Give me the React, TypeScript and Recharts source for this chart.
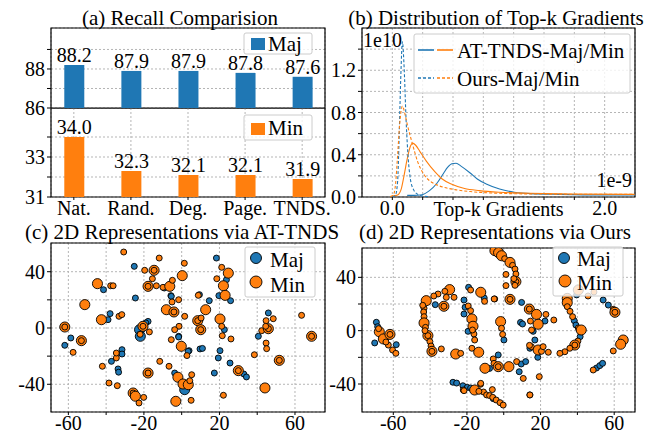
import React from 'react';
import {
  BarChart, Bar, XAxis, YAxis, ZAxis, CartesianGrid, LabelList, Label,
  LineChart, Line, ScatterChart, Scatter, ReferenceArea,
} from 'recharts';

const F = '"Liberation Serif", "Times New Roman", Times, serif';
const BLUE = '#1f77b4';
const ORANGE = '#ff7f0e';
const GRID = '#b5b5b5';

// ---------- (a) Recall comparison ----------
const methods = ['Nat.', 'Rand.', 'Deg.', 'Page.', 'TNDS.'];
const majRecall = [88.2, 87.9, 87.9, 87.8, 87.6];
const minRecall = [34.0, 32.3, 32.1, 32.1, 31.9];

// ---------- (b) Distribution of top-k gradients (x in 1e-9, y in 1e10) ----------
const atMajX = [0.14, 0.2, 0.28, 0.35, 0.42, 0.48, 0.52, 0.56, 0.6, 0.65, 0.73, 0.8, 0.89, 1.01, 1.15, 1.3, 1.58, 1.96, 2.28];
const atMajY = [0.015, 0.015, 0.022, 0.06, 0.13, 0.22, 0.28, 0.315, 0.32, 0.29, 0.23, 0.17, 0.12, 0.075, 0.045, 0.032, 0.025, 0.02, 0.02];
const atMinX = [0.0, 0.05, 0.085, 0.11, 0.14, 0.17, 0.19, 0.22, 0.26, 0.32, 0.4, 0.47, 0.56, 0.68, 0.82, 1.01, 1.3, 1.67, 2.28];
const atMinY = [0.01, 0.02, 0.08, 0.2, 0.36, 0.48, 0.51, 0.49, 0.43, 0.34, 0.24, 0.17, 0.12, 0.08, 0.06, 0.045, 0.035, 0.028, 0.025];
const oursMajX = [0.0, 0.03, 0.05, 0.065, 0.08, 0.095, 0.11, 0.13, 0.15, 0.17, 0.2, 0.24, 0.28, 0.35];
const oursMajY = [0.0, 0.02, 0.15, 0.6, 1.15, 1.47, 1.25, 0.72, 0.36, 0.17, 0.07, 0.025, 0.01, 0.003];
const oursMinX = [-0.02, 0.01, 0.03, 0.05, 0.07, 0.095, 0.12, 0.14, 0.19, 0.24, 0.3, 0.37, 0.43, 0.59, 0.75, 1.01, 1.4, 2.28];
const oursMinY = [0.005, 0.02, 0.12, 0.4, 0.7, 0.86, 0.78, 0.69, 0.5, 0.33, 0.21, 0.14, 0.11, 0.07, 0.05, 0.035, 0.028, 0.025];
const gradTicks = [0, 1, 2, 3, 4, 5, 6, 7].map((k) => (k * 2) / 7);
const densTicks = [0, 0.2, 0.4, 0.6, 0.8, 1.0, 1.2, 1.4];

// ---------- (c) 2D representations via AT-TNDS: [x, y, weight] ----------
const cMaj = [
  [-25.1, 43.8, 1], [18.4, 49.7, 1], [-41.4, 27.2, 1], [-9.2, 28.4, 1], [-5.7, 23.0, 1], [9.4, 23.7, 1],
  [14.6, 19.4, 1], [19.7, 23.0, 1], [23.7, 34.3, 1], [25.9, 19.4, 1], [-37.9, 10.2, 1], [-39.0, 5.9, 1],
  [-17.8, 4.7, 1], [-19.0, 3.6, 1], [-22.3, -1.2, 2], [-21.9, -5.9, 2], [-1.6, -5.9, 1], [3.9, -16.1, 1],
  [9.7, -14.9, 1], [11.0, -14.5, 1], [20.3, -16.1, 1], [19.4, -21.3, 1], [25.6, -24.9, 1], [22.6, -1.2, 1],
  [17.3, -32.0, 1], [32.9, -32.7, 1], [34.3, -34.8, 1], [-3.7, -32.0, 1], [1.6, -43.8, 2], [-37.2, -23.7, 1],
  [-31.6, -15.4, 1], [-31.6, -18.5, 1], [-33.7, -29.1, 1], [-33.4, -31.4, 1], [-61.9, -12.3, 1], [-58.7, -7.1, 1],
  [-24.5, 21.3, 1], [40.6, -5.9, 1], [45.9, 10.7, 1], [-5.5, 22.5, 1], [-1.6, -6.4, 1], [3.4, -16.6, 1],
];
const cMin = [
  [-30.7, 54.0, 1], [-11.9, 49.7, 1], [1.4, 46.0, 1], [21.2, 43.1, 1], [-19.6, 41.0, 1], [-14.6, 41.0, 2],
  [-14.6, 41.0, 1], [-15.5, 35.0, 1], [-44.6, 31.5, 2], [-37.6, 30.0, 1], [-36.3, 30.0, 1], [-17.8, 29.6, 2],
  [-17.8, 29.6, 1], [-13.4, 30.0, 1], [-9.9, 28.9, 1], [-6.3, 29.6, 2], [-4.9, 33.9, 1], [0.3, 37.2, 2],
  [-5.1, 18.5, 1], [-1.6, 20.1, 1], [22.1, 30.0, 2], [23.0, 23.2, 2], [24.7, 39.0, 2], [18.6, 35.0, 1],
  [8.8, 23.2, 1], [-51.3, 16.6, 2], [-33.2, 8.3, 1], [-31.7, 9.5, 1], [-42.5, 5.9, 2], [-20.5, 1.2, 2],
  [-20.5, 1.2, 1], [-22.0, -4.5, 1], [-17.1, -2.8, 1], [-8.1, 13.0, 2], [-4.1, 11.4, 2], [-4.1, 11.4, 1],
  [1.6, 8.3, 1], [-1.4, 1.2, 1], [-3.7, -1.2, 1], [-5.5, -8.3, 1], [-0.2, -13.0, 2], [8.5, 5.2, 2],
  [8.5, 5.2, 1], [10.3, 7.1, 1], [12.7, 13.0, 2], [10.1, -1.2, 2], [10.1, -1.2, 1], [20.3, 6.4, 2],
  [21.2, 1.2, 1], [21.5, -5.5, 1], [26.1, -7.8, 1], [30.0, -30.3, 2], [30.0, -30.3, 1], [22.1, -47.8, 1],
  [-6.7, -27.2, 1], [-2.0, -35.0, 2], [0.7, -39.8, 2], [3.5, -40.3, 2], [5.3, -33.2, 1], [4.3, -37.5, 1],
  [5.0, -51.4, 1], [-3.1, -52.1, 2], [-11.6, -23.7, 1], [-17.8, -32.0, 2], [-17.8, -32.0, 1], [-20.1, -49.3, 1],
  [-25.7, -46.2, 2], [-25.7, -46.2, 1], [-24.5, -48.5, 2], [-22.6, -53.3, 1], [-38.5, -39.1, 1], [-34.1, -41.0, 1],
  [-42.0, -27.2, 1], [-34.6, -21.3, 1], [-34.6, -17.8, 1], [-61.9, 0.7, 2], [-61.9, 0.7, 1], [-57.5, -17.3, 1],
  [-53.1, -9.0, 2], [-53.1, -9.0, 1], [2.8, -19.6, 1], [38.5, -19.0, 1], [42.4, -1.9, 1], [45.9, -0.5, 2],
  [45.9, -0.5, 1], [44.7, 5.2, 1], [48.5, 6.6, 1], [44.5, 1.2, 1], [44.7, -10.7, 1], [45.0, -14.7, 1],
  [51.7, -23.0, 2], [51.7, -23.0, 1], [44.1, -42.6, 2], [63.5, 9.0, 1], [68.8, -5.9, 2], [68.8, -5.9, 1],
];

// ---------- (d) 2D representations via Ours: [x, y, weight] ----------
const dMaj = [
  [-69.2, 6.3, 1], [-68.5, 3.0, 1], [-70.1, -9.2, 1], [-58.4, -10.5, 1], [-37.2, 19.5, 1], [-19.1, 32.5, 1],
  [-10.6, 24.5, 1], [-21.6, 23.0, 1], [-21.0, 17.5, 1], [-21.6, 12.5, 1], [-19.4, -0.5, 1], [0.1, -7.0, 1],
  [-3.0, -18.2, 1], [-7.7, -28.3, 1], [9.5, -25.0, 1], [11.9, -23.2, 1], [8.4, -30.8, 1], [9.7, 21.2, 1],
  [22.4, 7.2, 1], [9.1, 6.2, 1], [10.2, 5.0, 1], [16.0, -0.5, 1], [16.9, -7.0, 1], [18.5, -20.0, 1],
  [14.2, -13.2, 1], [38.3, 7.5, 1], [39.2, 4.2, 1], [41.5, -4.5, 1], [39.6, 26.8, 1], [54.0, 23.0, 1],
  [56.8, 19.2, 1], [50.4, -28.0, 1], [52.2, -26.2, 1], [53.7, -24.5, 1], [-27.6, -38.7, 1], [-25.6, -39.3, 1],
  [-22.2, -41.3, 1], [-19.8, -42.5, 1], [-18.0, -43.0, 1], [-5.7, -51.0, 1],
];
const dMin = [
  [-67.6, -0.8, 2], [-65.4, -6.2, 2], [-62.7, -10.8, 1], [-60.4, -14.5, 1], [-58.6, -17.0, 1], [-61.8, -2.8, 2],
  [-61.8, -2.8, 1], [-68.0, 1.5, 1], [-64.0, -8.5, 1],
  [-29.4, 30.8, 2], [-32.0, 29.5, 1], [-35.7, 27.5, 1], [-38.0, 26.0, 1], [-42.1, 22.5, 2], [-43.3, 16.8, 1],
  [-43.5, 14.0, 1], [-43.3, 10.5, 1], [-43.3, 5.8, 2], [-42.5, 2.5, 1], [-41.2, -3.7, 2], [-41.2, -3.7, 1],
  [-40.1, -8.2, 1], [-39.5, -11.5, 1], [-39.0, -15.5, 2], [-39.0, -15.5, 1], [-33.9, -13.7, 1], [-32.5, 18.3, 2],
  [-32.5, 18.3, 1], [-31.2, 25.0, 1], [-27.0, 25.0, 1], [-44.0, 19.0, 1], [-42.8, 0.0, 1],
  [-18.0, 30.5, 1], [-12.5, 28.8, 2], [-10.4, 22.0, 1], [-19.3, 18.5, 1], [-18.0, 15.0, 1], [-17.3, 8.8, 2],
  [-16.7, 3.3, 2], [-16.2, -2.5, 1], [-15.8, -7.0, 1], [-17.3, -13.2, 1], [-13.6, -16.2, 2], [-26.1, -17.5, 2],
  [-23.4, -17.0, 1], [-4.9, 23.8, 1], [-17.0, 0.5, 1],
  [-4.8, 60.0, 2], [-2.8, 58.5, 2], [-1.2, 56.2, 2], [0.5, 54.0, 1], [3.4, 51.2, 2], [4.8, 49.0, 1],
  [6.1, 46.2, 1], [6.6, 42.5, 1], [6.6, 36.8, 2], [6.6, 36.8, 1], [6.1, 34.0, 1], [1.2, 42.2, 1],
  [1.2, 33.8, 1], [3.4, 23.5, 2], [3.4, 23.5, 1], [-5.2, 23.8, 1], [5.5, 39.0, 1],
  [-1.7, 6.8, 2], [-1.2, 1.8, 1], [-0.6, -2.8, 1], [-5.7, -21.2, 1], [-5.3, -24.5, 1], [-3.0, -27.0, 2],
  [-3.0, -27.0, 1], [-10.2, -28.2, 2], [2.8, -27.0, 2], [7.0, -23.2, 1], [10.6, -35.8, 1], [14.2, -48.2, 1],
  [14.2, -48.2, 1],
  [13.9, 16.2, 2], [13.9, 16.2, 1], [17.8, 12.2, 2], [22.9, 12.2, 1], [18.7, 4.8, 2], [14.5, 7.2, 1],
  [15.1, 0.5, 1], [15.0, -12.0, 1], [18.7, -14.5, 2], [20.5, -15.5, 1], [21.4, -12.0, 1], [24.2, -16.2, 1],
  [27.2, 8.0, 1], [19.3, -34.5, 1], [14.0, -11.0, 1],
  [34.5, 24.2, 2], [34.5, 21.0, 2], [34.5, 18.0, 1], [36.0, 14.5, 1], [37.4, 10.5, 1], [40.5, 2.0, 1],
  [42.1, 0.5, 2], [40.3, -7.8, 1], [38.6, -10.8, 2], [38.6, -10.8, 1], [35.9, -13.2, 1], [33.2, -15.8, 1],
  [30.5, -17.0, 1], [40.5, 30.5, 2], [45.8, 26.0, 1], [49.0, 29.0, 1], [59.5, 16.0, 1], [60.4, 13.8, 2],
  [60.4, 13.8, 1], [59.5, -15.2, 1], [64.9, -7.0, 2], [63.5, -10.2, 2], [48.6, -29.5, 1],
  [-22.0, -44.5, 1], [-21.6, -45.0, 1], [-15.8, -44.5, 2], [-12.6, -40.2, 1], [-12.5, -39.5, 1], [-11.0, -46.0, 1],
  [-9.3, -48.2, 1], [-7.7, -48.7, 1], [-6.0, -50.0, 1], [-4.1, -52.0, 1], [-2.0, -54.0, 1], [-0.3, -55.8, 1],
  [-6.2, -44.2, 1], [-13.5, -45.5, 1],
];

const recallRows = methods.map((m, i) => ({ idx: i, name: m, maj: majRecall[i], min: minRecall[i] }));
const toXY = (xs: number[], ys: number[]) => xs.map((x, i) => ({ x, y: ys[i] }));
const toPts = (arr: number[][]) => arr.map(([x, y, w]) => ({ x, y, w }));

const tickStyle = { fill: '#000', fontSize: 20, fontFamily: F };
const tickLine = { stroke: '#000' };
const near = (a: number, b: number) => Math.abs(a - b) < 1e-6;

function ScatterPanel({ maj, min, xDom, yDom, yW, width, margin }: any) {
  return (
    <ScatterChart width={width} height={204} margin={margin}>
      <CartesianGrid stroke={GRID} strokeDasharray="2 2" />
      <XAxis dataKey="x" type="number" domain={xDom} allowDataOverflow ticks={[-60, -40, -20, 0, 20, 40, 60]} interval={0}
        tickFormatter={(v: number) => ([-60, -20, 20, 60].includes(v) ? String(v) : '')}
        height={22} tick={tickStyle} tickLine={tickLine} tickSize={3} tickMargin={1} axisLine={false} />
      <YAxis dataKey="y" type="number" domain={yDom} allowDataOverflow ticks={[-40, -20, 0, 20, 40]} interval={0}
        tickFormatter={(v: number) => ([-40, 0, 40].includes(v) ? String(v) : '')}
        width={yW} tick={tickStyle} tickLine={tickLine} tickSize={4} tickMargin={2} axisLine={false} />
      <ZAxis dataKey="w" type="number" domain={[1, 2]} range={[28, 80]} />
      <Scatter data={toPts(maj)} fill={BLUE} stroke="#000" strokeWidth={0.9} isAnimationActive={false} />
      <Scatter data={toPts(min)} fill={ORANGE} stroke="#000" strokeWidth={0.9} isAnimationActive={false} />
      <ReferenceArea x1={xDom[0]} x2={xDom[1]} y1={yDom[0]} y2={yDom[1]} fill="none" stroke="#000" strokeWidth={1.2} ifOverflow="visible" />
    </ScatterChart>
  );
}

export default function App() {
  return (
    <div style={{ position: 'absolute', left: 0, top: 0, width: 668, height: 434, background: '#fff', overflow: 'hidden', fontFamily: F }}>
      {/* (a) upper: Maj */}
      <div style={{ position: 'absolute', left: 0, top: 0 }}>
        <BarChart width={340} height={122} data={recallRows} margin={{ top: 28, right: 15, left: 0, bottom: 14 }}>
          <CartesianGrid stroke={GRID} strokeDasharray="2 2" />
          <XAxis dataKey="idx" type="number" domain={[-0.4, 4.4]} ticks={[0, 1, 2, 3, 4]} interval={0} allowDataOverflow
            height={0} tick={false} tickLine={false} axisLine={false} />
          <YAxis type="number" domain={[86, 90.1]} allowDataOverflow ticks={[86, 87, 88, 89]} interval={0}
            tickFormatter={(v: number) => (v === 86 || v === 88 ? String(v) : '')}
            width={51} tick={tickStyle} tickLine={tickLine} tickSize={4} tickMargin={2} axisLine={false} />
          <Bar dataKey="maj" fill={BLUE} barSize={20} isAnimationActive={false}>
            <LabelList dataKey="maj" position="top" offset={3} fill="#000" fontSize={20} fontFamily={F}
              formatter={(v: any) => Number(v).toFixed(1)} />
          </Bar>
          <ReferenceArea x1={-0.4} x2={4.4} y1={86} y2={90.1} fill="none" stroke="#000" strokeWidth={1.2} ifOverflow="visible" />
        </BarChart>
      </div>
      {/* (a) lower: Min */}
      <div style={{ position: 'absolute', left: 0, top: 108 }}>
        <BarChart width={340} height={114} data={recallRows} margin={{ top: 0, right: 15, left: 0, bottom: 0 }}>
          <CartesianGrid stroke={GRID} strokeDasharray="2 2" />
          <XAxis dataKey="idx" type="number" domain={[-0.4, 4.4]} ticks={[0, 1, 2, 3, 4]} interval={0} allowDataOverflow
            tickFormatter={(v: number) => methods[v] ?? ''}
            height={25} tick={tickStyle} tickLine={tickLine} tickSize={3} tickMargin={1} axisLine={false} />
          <YAxis type="number" domain={[31, 35.45]} allowDataOverflow ticks={[31, 32, 33, 34]} interval={0}
            tickFormatter={(v: number) => (v === 31 || v === 33 ? String(v) : '')}
            width={51} tick={tickStyle} tickLine={tickLine} tickSize={4} tickMargin={2} axisLine={false} />
          <Bar dataKey="min" fill={ORANGE} barSize={20} isAnimationActive={false}>
            <LabelList dataKey="min" position="top" offset={3} fill="#000" fontSize={20} fontFamily={F}
              formatter={(v: any) => Number(v).toFixed(1)} />
          </Bar>
          <ReferenceArea x1={-0.4} x2={4.4} y1={31} y2={35.45} fill="none" stroke="#000" strokeWidth={1.2} ifOverflow="visible" />
        </BarChart>
      </div>

      {/* (b) distribution */}
      <div style={{ position: 'absolute', left: 322, top: 0 }}>
        <LineChart width={318} height={222} margin={{ top: 28, right: 5, left: 0, bottom: 0 }}>
          <CartesianGrid stroke={GRID} strokeDasharray="2 2" />
          <XAxis dataKey="x" type="number" domain={[-2 / 7, 16 / 7]} allowDataOverflow ticks={gradTicks} interval={0}
            tickFormatter={(v: number) => (near(v, 0) ? '0.0' : near(v, 2) ? '2.0' : '')}
            height={25} tick={tickStyle} tickLine={tickLine} tickSize={3} tickMargin={1} axisLine={false}>
            <Label value="Top-k Gradients" position="insideBottom" offset={6} fill="#000"
              style={{ fontSize: 20, fontFamily: F, fill: '#000' }} />
          </XAxis>
          <YAxis type="number" domain={[0, 1.6]} allowDataOverflow ticks={densTicks} interval={0}
            tickFormatter={(v: number) => ([0, 0.4, 0.8, 1.2].some((t) => near(t, v)) ? v.toFixed(1) : '')}
            width={40} tick={tickStyle} tickLine={tickLine} tickSize={4} tickMargin={2} axisLine={false} />
          <Line data={toXY(atMajX, atMajY)} dataKey="y" type="monotone" stroke={BLUE} strokeWidth={1.1} dot={false} isAnimationActive={false} />
          <Line data={toXY(atMinX, atMinY)} dataKey="y" type="monotone" stroke={ORANGE} strokeWidth={1.1} dot={false} isAnimationActive={false} />
          <Line data={toXY(oursMajX, oursMajY)} dataKey="y" type="monotone" stroke={BLUE} strokeWidth={1.1} strokeDasharray="3 2" dot={false} isAnimationActive={false} />
          <Line data={toXY(oursMinX, oursMinY)} dataKey="y" type="monotone" stroke={ORANGE} strokeWidth={1.1} strokeDasharray="3 2" dot={false} isAnimationActive={false} />
          <ReferenceArea x1={-2 / 7} x2={16 / 7} y1={0} y2={1.6} fill="none" stroke="#000" strokeWidth={1.2} ifOverflow="visible" />
        </LineChart>
      </div>

      {/* (c) AT-TNDS scatter */}
      <div style={{ position: 'absolute', left: 0, top: 230 }}>
        <ScatterPanel maj={cMaj} min={cMin} xDom={[-69.2, 75.9]} yDom={[-59.7, 60.4]} yW={51} width={340}
          margin={{ top: 13, right: 15, left: 0, bottom: 0 }} />
      </div>
      {/* (d) Ours scatter */}
      <div style={{ position: 'absolute', left: 322, top: 230 }}>
        <ScatterPanel maj={dMaj} min={dMin} xDom={[-77, 71.3]} yDom={[-61, 62]} yW={40} width={318}
          margin={{ top: 18, right: 5, left: 0, bottom: 0 }} />
      </div>

      {/* titles, offset texts and legends */}
      <svg width={668} height={434} style={{ position: 'absolute', left: 0, top: 0, pointerEvents: 'none' }}
        fontFamily={F} fontSize={21}>
        <text x={180} y={25} textAnchor="middle">(a) Recall Comparision</text>
        <text x={496} y={25} textAnchor="middle">(b) Distribution of Top-k Gradients</text>
        <text x={182} y={239} textAnchor="middle">(c) 2D Representations via AT-TNDS</text>
        <text x={495} y={239} textAnchor="middle">(d) 2D Representations via Ours</text>

        <text x={363} y={47} fontSize={20}>1e10</text>
        <text x={632} y={187} fontSize={20} textAnchor="end">1e-9</text>

        {/* (a) legends */}
        <rect x={244} y={33} width={68} height={21} rx={2} fill="#fff" fillOpacity={0.8} stroke="#ccc" />
        <rect x={251} y={38} width={14} height={12} fill={BLUE} />
        <text x={268} y={51}>Maj</text>
        <rect x={244} y={115} width={68} height={25} rx={2} fill="#fff" fillOpacity={0.8} stroke="#ccc" />
        <rect x={251} y={123} width={14} height={12} fill={ORANGE} />
        <text x={268} y={135}>Min</text>

        {/* (b) legend */}
        <rect x={414} y={34} width={216} height={59} rx={2} fill="#fff" fillOpacity={0.8} stroke="#ccc" />
        <line x1={418} y1={50} x2={434} y2={50} stroke={BLUE} strokeWidth={1.6} />
        <line x1={437} y1={50} x2={453} y2={50} stroke={ORANGE} strokeWidth={1.6} />
        <text x={457} y={58}>AT-TNDS-Maj/Min</text>
        <line x1={418} y1={78} x2={434} y2={78} stroke={BLUE} strokeWidth={1.6} strokeDasharray="3 2" />
        <line x1={437} y1={78} x2={453} y2={78} stroke={ORANGE} strokeWidth={1.6} strokeDasharray="3 2" />
        <text x={457} y={86}>Ours-Maj/Min</text>

        {/* (c) legend */}
        <rect x={245} y={247} width={70} height={50} rx={2} fill="#fff" fillOpacity={0.8} stroke="#ccc" />
        <circle cx={256} cy={258} r={5.5} fill={BLUE} stroke="#000" strokeWidth={0.9} />
        <text x={270} y={267}>Maj</text>
        <circle cx={256} cy={282} r={6} fill={ORANGE} stroke="#000" strokeWidth={0.9} />
        <text x={270} y={292}>Min</text>

        {/* (d) legend */}
        <rect x={553} y={247} width={70} height={49} rx={2} fill="#fff" fillOpacity={0.8} stroke="#ccc" />
        <circle cx={564} cy={258} r={5.5} fill={BLUE} stroke="#000" strokeWidth={0.9} />
        <text x={577} y={266}>Maj</text>
        <circle cx={565} cy={281} r={6} fill={ORANGE} stroke="#000" strokeWidth={0.9} />
        <text x={577} y={290}>Min</text>
      </svg>
    </div>
  );
}
